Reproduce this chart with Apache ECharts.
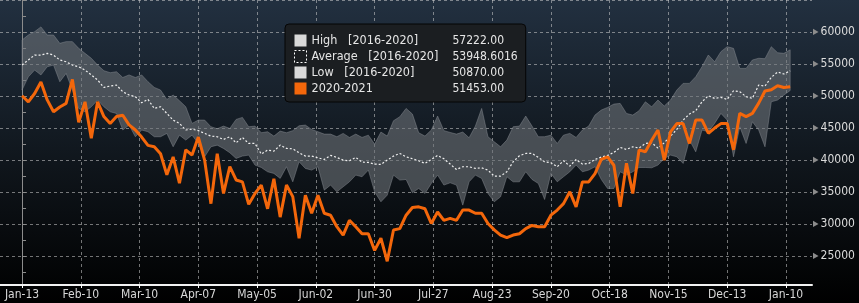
<!DOCTYPE html>
<html><head><meta charset="utf-8">
<script src="https://cdn.jsdelivr.net/npm/echarts@6/dist/echarts.min.js"></script>
<style>html,body{margin:0;padding:0;background:#000}#c{width:859px;height:303px}</style>
</head><body><div id="c"></div>
<script>
const tickLabels = ['Jan-13','Feb-10','Mar-10','Apr-07','May-05','Jun-02','Jun-30','Jul-27','Aug-23','Sep-20','Oct-18','Nov-15','Dec-13','Jan-10'];
const tickDays = [0,28,56,84,112,140,168,196,224,252,280,308,336,364];
const yLabelValues = [25000,30000,35000,40000,45000,50000,55000,60000];
const yGridValues = [25000,30000,35000,40000,45000,50000,55000,60000,65000];
const yMinorValues = [22500,25000,27500,30000,32500,35000,37500,40000,42500,45000,47500,50000,52500,55000,57500,60000,62500,65000];
const stepDays = 3;
const seriesNames = ['High   [2016-2020]','Average   [2016-2020]','Low   [2016-2020]','2020-2021'];
const legendValues = ['57222.00','53948.6016','50870.00','51453.00'];

const actual = [50050,49100,50400,52200,49400,47550,48300,48850,52600,45900,
49100,43400,49100,46800,45700,46800,47000,45500,44700,43600,
42300,42100,41000,37700,40500,36400,41600,40800,43600,40000,
33200,41000,34800,39000,36900,36600,33100,34800,36100,32400,
37100,31100,36100,34300,27800,34500,31700,34500,31700,31400,
29600,28300,30600,29600,28500,28500,25900,27800,24200,29100,
29300,31400,32600,32700,32400,30100,31900,30600,30900,30600,
32200,32200,31700,31700,30100,29100,28300,27900,28300,28500,
29300,29800,29600,29600,31400,32200,33200,35050,32700,36600,
36600,37900,40100,40500,39200,32700,39500,34800,41600,41300,
43100,44700,40000,44400,45700,45700,42600,46250,46250,44200,
45000,45700,45700,41600,47300,46800,47300,48900,50800,51000,
51600,51350,51453];

const high = [58750,59530,60050,60800,59530,59530,58230,58500,58500,57450,
56670,55900,54840,53960,53650,53800,52900,53300,52900,53300,
52240,51350,50940,49480,50160,49270,48330,45730,46250,46250,
45210,44900,45310,44950,46350,46670,45210,45310,44270,44430,
43750,44530,44270,44600,45360,45470,44790,44430,44060,44060,
43650,44170,43540,44060,43540,43900,42500,44380,43750,46150,
46770,48070,47190,44270,43750,44690,46880,44600,44320,44060,
44380,43490,45310,48070,43650,42860,42080,43130,45210,45310,
46880,45310,43650,43650,43900,42600,43900,44170,43540,44690,
45310,47030,47810,48230,48750,48850,47290,47030,47710,49110,
48330,49380,48440,49380,50940,51980,51980,53020,54580,56410,
55360,56930,57710,57450,54320,54320,55630,55900,55830,57710,
56770,56670,57222];

const avg = [54840,55630,56400,56400,56670,56400,55630,55360,54840,54580,
54060,53300,52500,51350,51560,51720,50680,50160,49900,48960,
49480,48070,48330,47290,46250,45730,44700,44840,44600,44170,
43750,43650,43230,43650,42700,43540,42600,42600,40940,41560,
41400,42340,41820,41770,41150,40630,40630,40360,40100,40730,
40420,40000,39900,40420,39690,39640,39380,39320,40000,40630,
41040,40520,40210,39900,39480,40100,40730,40210,39380,38540,
38960,38960,38700,38800,38440,37500,37500,38180,39740,40680,
41040,41040,40420,39740,39580,38960,39900,39060,40100,39380,
39480,40100,40470,40730,41200,41980,41670,42080,41880,42600,
42700,41880,42700,43750,44790,46250,47190,47710,49110,50050,
49640,49790,49480,50830,50680,49900,49640,51720,51560,52920,
53750,53440,53948.6016];

const low = [50940,53000,54060,53300,54580,54840,52240,53540,50940,48070,
47550,48330,49380,48330,47550,47290,44700,45470,43650,44700,
44430,43650,43650,44170,42080,43900,43130,43900,42600,40520,
42080,42340,41820,41150,40260,40630,40780,39220,38850,38180,
37920,37140,38960,36610,39740,38700,38440,38960,35310,36100,
35050,35830,36610,37660,37400,38440,35050,33490,34530,37660,
36880,36980,34900,35570,34790,36350,37660,36100,36460,36100,
32970,36610,37660,37140,34790,33490,34270,37400,36610,36610,
38180,36980,36350,33850,37920,36610,37400,38180,39220,38180,
38440,38960,36980,35570,35570,38180,37660,38180,38850,38850,
38800,39220,40260,40780,40520,39480,43130,41300,44700,44430,
45730,47290,46250,40520,45210,42600,45990,44700,42080,49110,
49380,50160,50870];

const FONT = '"DejaVu Sans Condensed","DejaVu Sans",sans-serif';
const gridLine = {show:true, lineStyle:{color:'rgba(205,205,205,0.55)', width:1, type:[3,3]}};
const pts = arr => arr.map((v,i)=>[i*stepDays, v]);

const chart = echarts.init(document.getElementById('c'), null, {renderer:'canvas'});
const option = {
  animation:false,
  backgroundColor:{type:'linear',x:0,y:0,x2:0,y2:1,colorStops:[{offset:0,color:'#223040'},{offset:0.55,color:'#0f151b'},{offset:1,color:'#000000'}]},
  textStyle:{fontFamily:FONT},
  grid:{left:0,right:47,top:0,bottom:18,containLabel:false},
  legend:{
    orient:'vertical', left:285, top:24, padding:[10,8,7,9], itemGap:3,
    itemWidth:12, itemHeight:12, selectedMode:false,
    backgroundColor:'#1b1e21', borderColor:'#050505', borderWidth:1, borderRadius:4,
    textStyle:{color:'#e6e6e6', fontSize:12, fontFamily:FONT,
      rich:{n:{width:141,fontSize:12.5,color:'#e6e6e6',fontFamily:FONT},v:{fontSize:12,color:'#e6e6e6',fontFamily:FONT}}},
    formatter: name => '{n|'+name+'}{v|'+legendValues[seriesNames.indexOf(name)]+'}',
    data:[
      {name:seriesNames[0], icon:'rect', itemStyle:{color:'#d9d9d9',borderWidth:0}},
      {name:seriesNames[1], icon:'rect', itemStyle:{color:'rgba(0,0,0,0)',borderColor:'#ffffff',borderWidth:1,borderType:[2,2]}},
      {name:seriesNames[2], icon:'rect', itemStyle:{color:'#d9d9d9',borderWidth:0}},
      {name:seriesNames[3], icon:'rect', itemStyle:{color:'#f4670b',borderWidth:0}}
    ]
  },
  xAxis:{
    type:'value', min:-10.5, max:376.4,
    axisLine:{show:true,onZero:false,lineStyle:{color:'#f2f2f2',width:2}},
    axisTick:{show:true,customValues:tickDays,length:3,lineStyle:{color:'#ffffff',width:1}},
    axisLabel:{customValues:tickDays,formatter:v=>tickLabels[tickDays.indexOf(v)],color:'#d8d8d8',fontSize:12,margin:4,fontFamily:FONT},
    splitLine:gridLine
  },
  yAxis:[
    {type:'value', position:'right', min:20500, max:65000,
     axisLine:{show:true,lineStyle:{color:'#8c8c8c',width:1}},
     axisTick:{show:true,inside:false,customValues:yMinorValues,length:4,lineStyle:{color:'#8c8c8c'}},
     axisLabel:{show:false}, splitLine:{show:false}},
    {type:'value', position:'right', min:20500, max:65000,
     axisLine:{show:false},
     axisTick:{show:false,customValues:yGridValues},
     axisLabel:{customValues:yLabelValues, margin:1, fontFamily:FONT,
       formatter:v=>'{t|▶}{n|'+v+'}',
       rich:{t:{color:'#8c8c8c',fontSize:8,padding:[0,2,0,0]},n:{color:'#dcdcdc',fontSize:12,fontFamily:FONT}}},
     splitLine:gridLine}
  ],
  series:[
    {name:seriesNames[0], type:'custom', yAxisIndex:0, z:2, clip:true,
     data:[[0, high[0]]],
     renderItem:(params, api) => {
       if (params.dataIndex !== 0) return null;
       const top = high.map((v,i)=>api.coord([i*stepDays, v]));
       const bot = low.map((v,i)=>api.coord([i*stepDays, v])).reverse();
       return {type:'polygon', shape:{points: top.concat(bot)},
         style:{fill:'rgba(112,117,123,0.58)', stroke:'rgba(140,145,150,0.45)', lineWidth:1}};
     }},
    {name:seriesNames[2], type:'line', data:pts(low), symbol:'none', yAxisIndex:0,
     lineStyle:{color:'rgba(150,155,160,0.0)',width:0}, z:2},
    {name:seriesNames[1], type:'line', data:pts(avg), symbol:'none', yAxisIndex:0,
     lineStyle:{color:'#f0f0f0',width:1.2,type:[2,2]}, z:3},
    {name:seriesNames[3], type:'line', data:pts(actual), symbol:'none', yAxisIndex:0,
     lineStyle:{color:'#f4670b',width:3}, z:4}
  ]
};
chart.setOption(option);
</script></body></html>
